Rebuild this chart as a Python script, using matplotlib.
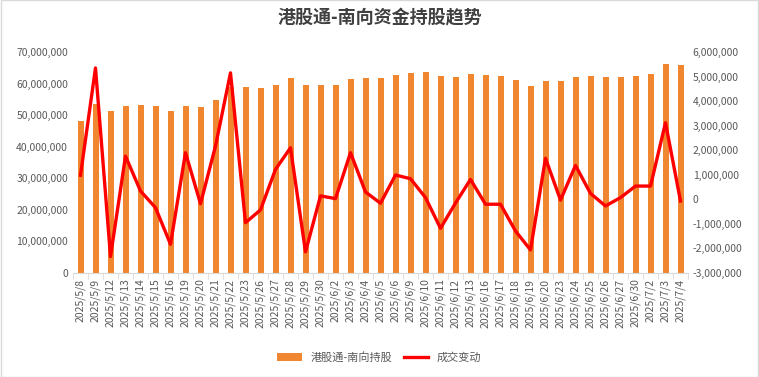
import numpy as np
import matplotlib.pyplot as plt
from matplotlib.ticker import FuncFormatter

plt.rcParams['font.family'] = ['Noto Sans CJK SC', 'DejaVu Sans']

dates = ["2025/5/8", "2025/5/9", "2025/5/12", "2025/5/13", "2025/5/14", "2025/5/15",
         "2025/5/16", "2025/5/19", "2025/5/20", "2025/5/21", "2025/5/22", "2025/5/23",
         "2025/5/26", "2025/5/27", "2025/5/28", "2025/5/29", "2025/5/30", "2025/6/2",
         "2025/6/3", "2025/6/4", "2025/6/5", "2025/6/6", "2025/6/9", "2025/6/10",
         "2025/6/11", "2025/6/12", "2025/6/13", "2025/6/16", "2025/6/17", "2025/6/18",
         "2025/6/19", "2025/6/20", "2025/6/23", "2025/6/24", "2025/6/25", "2025/6/26",
         "2025/6/27", "2025/6/30", "2025/7/2", "2025/7/3", "2025/7/4"]

# holdings (left axis)
holdings = [48.3, 53.6, 51.2, 53.0, 53.3, 53.0, 51.2, 53.0, 52.6, 54.9, 59.0, 59.0,
            58.6, 59.6, 61.8, 59.6, 59.6, 59.6, 61.5, 61.8, 61.8, 62.8, 63.4, 63.7,
            62.4, 62.1, 63.1, 62.8, 62.4, 61.2, 59.3, 60.9, 60.9, 62.1, 62.4, 62.1,
            62.1, 62.4, 63.1, 66.2, 65.9]
holdings = [v * 1e6 for v in holdings]

# turnover change (right axis)
change = [0.98, 5.35, -2.33, 1.76, 0.34, -0.34, -1.83, 1.90, -0.18, 2.17, 5.15, -0.95,
          -0.43, 1.22, 2.10, -2.14, 0.14, 0.03, 1.90, 0.30, -0.16, 0.99, 0.84, 0.07,
          -1.18, -0.15, 0.81, -0.20, -0.20, -1.29, -2.06, 1.67, -0.03, 1.38, 0.24, -0.27,
          0.07, 0.54, 0.54, 3.12, -0.07]
change = [v * 1e6 for v in change]

x = np.arange(len(dates))
grey = "#595959"

fig = plt.figure(figsize=(7.59, 3.77), dpi=100)
ax = fig.add_axes([73 / 759, 1 - 273 / 377, (688 - 73) / 759, (273 - 52) / 377])
ax2 = ax.twinx()

bars = ax.bar(x, holdings, width=0.4, color="#F0862F", label="港股通-南向持股", zorder=2)
line, = ax2.plot(x, change, color="#FF0000", linewidth=2.4, label="成交变动", zorder=3)

ax.set_ylim(0, 70e6)
ax.set_yticks(np.arange(0, 70e6 + 1, 10e6))
ax2.set_ylim(-3e6, 6e6)
ax2.set_yticks(np.arange(-3e6, 6e6 + 1, 1e6))
fmt = FuncFormatter(lambda v, p: f"{v:,.0f}")
ax.yaxis.set_major_formatter(fmt)
ax2.yaxis.set_major_formatter(fmt)
ax.set_xlim(-0.5, len(dates) - 0.5)

ax.set_xticks(x)
ax.set_xticklabels(dates, rotation=90, fontsize=7.5, color=grey)
ax.set_xticks(np.arange(-0.5, len(dates), 1), minor=True)
ax.tick_params(axis="x", which="major", length=0, pad=4)
ax.tick_params(axis="x", which="minor", length=4, color="#D9D9D9")
ax.tick_params(axis="y", length=0, labelsize=7.5, labelcolor=grey)
ax2.tick_params(axis="y", length=0, labelsize=7.5, labelcolor=grey)

for a in (ax, ax2):
    for s in ("top", "left", "right"):
        a.spines[s].set_visible(False)
ax2.spines["bottom"].set_visible(False)
ax.spines["bottom"].set_color("#D9D9D9")

fig.suptitle("港股通-南向资金持股趋势", y=0.98, fontsize=13, fontweight="bold", color="#404040")
fig.legend([bars, line], ["港股通-南向持股", "成交变动"], loc="lower center",
           bbox_to_anchor=(0.5, 0.01), ncol=2, frameon=False, fontsize=8,
           labelcolor=grey, handlelength=2.2, columnspacing=1.0)

fig.patches.append(plt.Rectangle((0.001, 0.001), 0.998, 0.998, transform=fig.transFigure,
                                 fill=False, edgecolor="#D9D9D9", linewidth=1))

fig.savefig("out.png", dpi=100)
